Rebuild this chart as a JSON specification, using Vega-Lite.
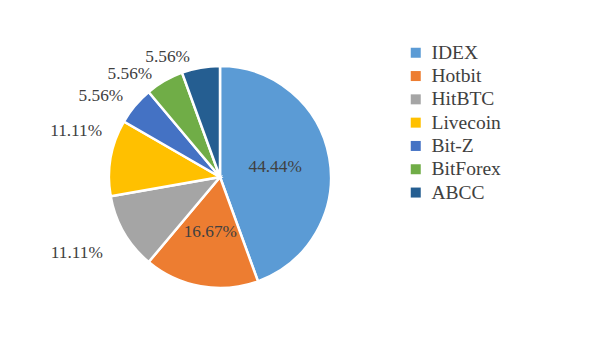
{
  "$schema": "https://vega.github.io/schema/vega-lite/v6.json",
  "width": 440,
  "height": 354,
  "autosize": {"type": "none"},
  "padding": {"left": 0, "top": 0, "right": 160, "bottom": 0},
  "background": "white",
  "config": {"view": {"stroke": null}, "font": "Liberation Serif"},
  "data": {
    "values": [
      {"exchange": "IDEX", "count": 8, "label": "44.44%"},
      {"exchange": "Hotbit", "count": 3, "label": "16.67%"},
      {"exchange": "HitBTC", "count": 2, "label": "11.11%"},
      {"exchange": "Livecoin", "count": 2, "label": "11.11%"},
      {"exchange": "Bit-Z", "count": 1, "label": "5.56%"},
      {"exchange": "BitForex", "count": 1, "label": "5.56%"},
      {"exchange": "ABCC", "count": 1, "label": "5.56%"}
    ]
  },
  "encoding": {
    "theta": {"field": "count", "type": "quantitative", "stack": true},
    "order": {"field": "count", "sort": "descending"}
  },
  "layer": [
    {
      "mark": {"type": "arc", "outerRadius": 111, "stroke": "white", "strokeWidth": 2.5},
      "encoding": {
        "color": {
          "field": "exchange",
          "type": "nominal",
          "scale": {
            "domain": ["IDEX", "Hotbit", "HitBTC", "Livecoin", "Bit-Z", "BitForex", "ABCC"],
            "range": ["#5B9BD5", "#ED7D31", "#A5A5A5", "#FFC000", "#4472C4", "#70AD47", "#255E91"]
          },
          "legend": {
            "title": null,
            "orient": "none",
            "legendX": 406,
            "legendY": 43,
            "padding": 0,
            "symbolType": "square",
            "symbolSize": 100,
            "symbolStrokeWidth": 0,
            "labelFont": "Liberation Serif",
            "labelFontSize": 19.5,
            "labelColor": "#404040",
            "labelOffset": 6,
            "rowPadding": 2.3
          }
        }
      }
    },
    {
      "mark": {"type": "text", "radius": 56, "fontSize": 17.3, "color": "#404040", "align": "center", "baseline": "middle"},
      "encoding": {
        "text": {"condition": {"test": "datum.exchange === 'IDEX' || datum.exchange === 'Hotbit'", "field": "label"}, "value": ""}
      }
    },
    {
      "mark": {"type": "text", "radius": 162, "thetaOffset": 0.037, "fontSize": 17.3, "color": "#404040", "align": "center", "baseline": "middle"},
      "encoding": {
        "text": {"condition": {"test": "datum.exchange === 'HitBTC'", "field": "label"}, "value": ""}
      }
    },
    {
      "mark": {"type": "text", "radius": 151, "thetaOffset": 0.134, "fontSize": 17.3, "color": "#404040", "align": "center", "baseline": "middle"},
      "encoding": {
        "text": {"condition": {"test": "datum.exchange === 'Livecoin'", "field": "label"}, "value": ""}
      }
    },
    {
      "mark": {"type": "text", "radius": 144, "thetaOffset": -0.101, "fontSize": 17.3, "color": "#404040", "align": "center", "baseline": "middle"},
      "encoding": {
        "text": {"condition": {"test": "datum.exchange === 'Bit-Z'", "field": "label"}, "value": ""}
      }
    },
    {
      "mark": {"type": "text", "radius": 137, "thetaOffset": -0.194, "fontSize": 17.3, "color": "#404040", "align": "center", "baseline": "middle"},
      "encoding": {
        "text": {"condition": {"test": "datum.exchange === 'BitForex'", "field": "label"}, "value": ""}
      }
    },
    {
      "mark": {"type": "text", "radius": 131, "thetaOffset": -0.237, "fontSize": 17.3, "color": "#404040", "align": "center", "baseline": "middle"},
      "encoding": {
        "text": {"condition": {"test": "datum.exchange === 'ABCC'", "field": "label"}, "value": ""}
      }
    }
  ]
}
